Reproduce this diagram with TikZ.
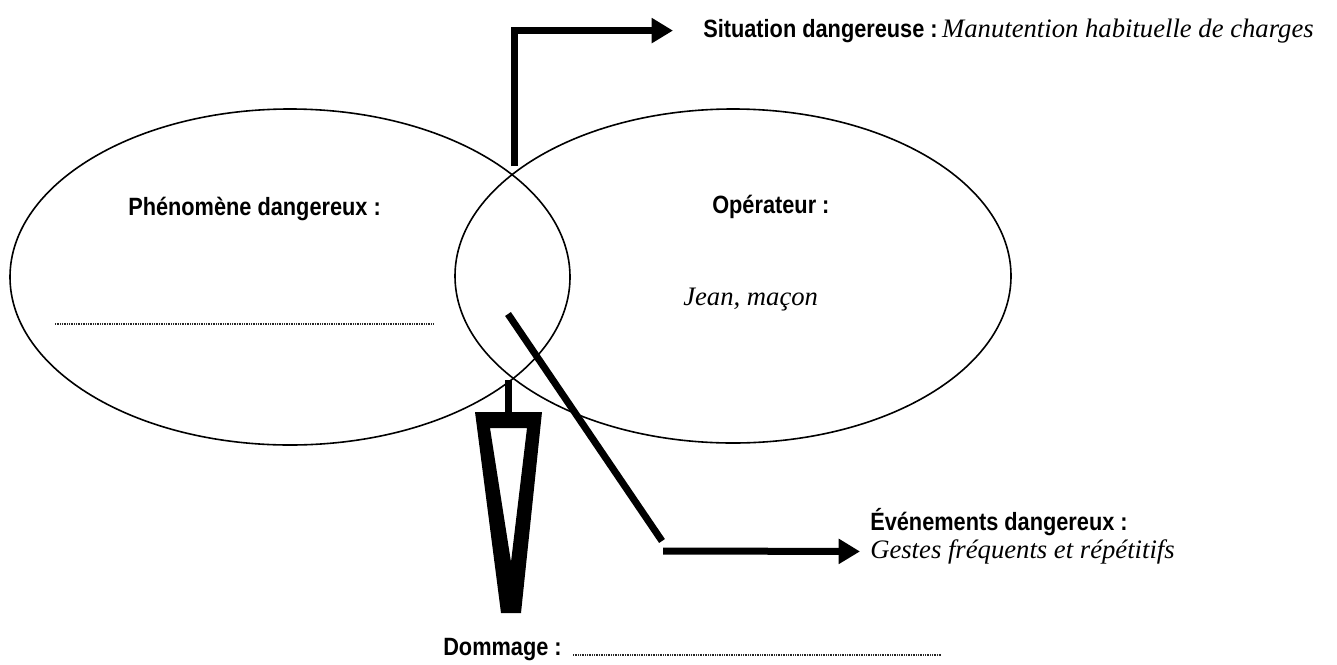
\documentclass[tikz,border=0pt]{standalone}
\usepackage{fontspec}
\setmainfont{Liberation Serif}
\newfontfamily\titre{Liberation Sans}[FakeStretch=0.87]
\usetikzlibrary{arrows.meta,shapes.geometric,positioning}

\newcommand{\gras}[1]{{\titre\bfseries\fontsize{18.75pt}{22pt}\selectfont #1}}
\newcommand{\ital}[1]{{\itshape\fontsize{20pt}{24pt}\selectfont #1}}

\tikzset{
  bulle/.style={draw,ellipse,line width=1.2pt,inner sep=0pt},
  texte/.style={inner sep=0pt,anchor=base west},
  barre/.style={line width=5.25pt,miter limit=10},
  fleche/.style={barre,-{Triangle[length=16pt,width=18pt]}},
  pointille/.style={line width=1pt,black!85,dash pattern=on 0.7pt off 0.6pt}
}

\begin{document}
\begin{tikzpicture}[x=0.75pt,y=-0.75pt]
  \useasboundingbox (0,0) rectangle (1337,664);
  % les deux ensembles
  \node[bulle,minimum width=420pt,minimum height=252pt] (phenomene) at (290,277) {};
  \node[bulle,minimum width=417pt,minimum height=250.5pt] (operateur) at (733,276) {};
  \node[texte] (phen) at (128,215) {\gras{Phénomène dangereux :}};
  \node[texte] (oper) at (712,213) {\gras{Opérateur :}};
  \node[texte] (jean) at (683,305) {\ital{Jean, maçon}};
  \coordinate (pA) at (55,324);
  \coordinate (pB) at (433,324);
  \draw[pointille] (pA) -- (pB);
  % situation dangereuse
  \node[texte] (situ) at (703,37) {\gras{Situation dangereuse :} \ital{Manutention habituelle de charges}};
  \coordinate (haut) at (514,166);
  \draw[fleche] (haut) |- ([xshift=-22.5pt]situ.west);
  % evenements dangereux
  \node[texte] (even) at (870,530) {\gras{Événements dangereux :}};
  \node[texte] (gestes) at (870,558) {\ital{Gestes fréquents et répétitifs}};
  \coordinate (eA) at (508,314);
  \coordinate (eB) at (662,541);
  \coordinate (eC) at (663,551);
  \draw[barre] (eA) -- (eB);
  \draw[fleche] (eC) -- ([xshift=-7.5pt]gestes.west);
  % dommage
  \coordinate (bas) at (508,380);
  \coordinate (socle) at (508,413);
  \draw[barre] (bas) -- (socle);
  \fill[even odd rule] (475,412) -- (542,412) -- (521,613) -- (501,613) -- cycle
    (490,428) -- (527,428) -- (511,562) -- cycle;
  \node[texte] (domm) at (443,655) {\gras{Dommage :}};
  \coordinate (dA) at (573,655);
  \coordinate (dB) at (942,655);
  \draw[pointille] (dA) -- (dB);
\end{tikzpicture}
\end{document}
